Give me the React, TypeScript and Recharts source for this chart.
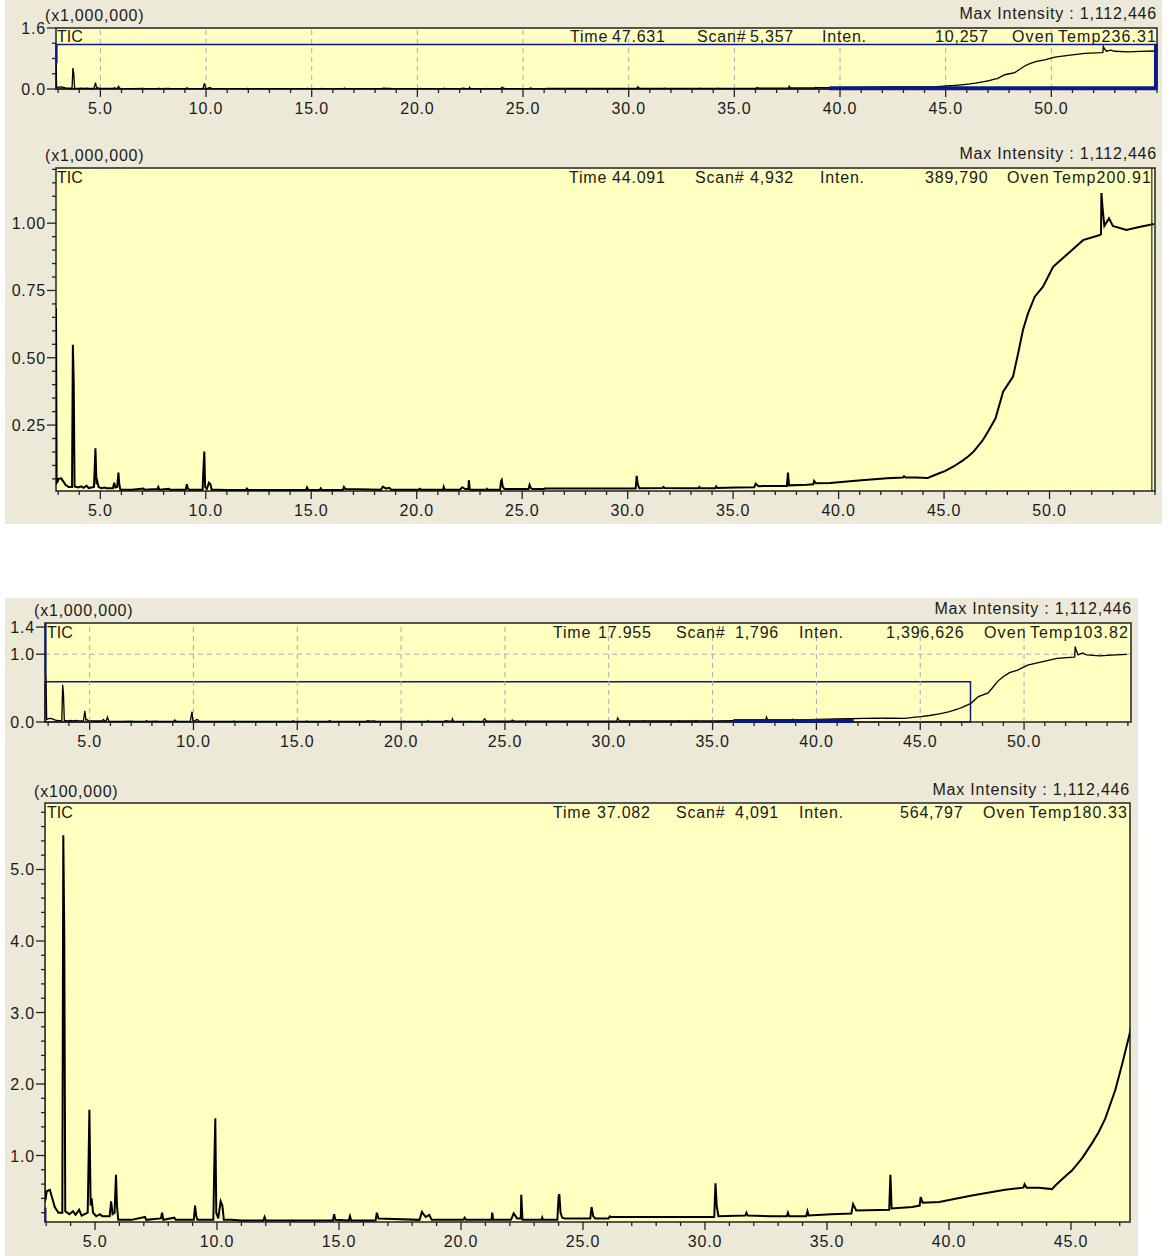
import React from "react";
import {
  LineChart,
  Line,
  XAxis,
  YAxis,
  CartesianGrid,
  ReferenceArea,
  ReferenceLine,
} from "recharts";

// retention time (min) and TIC intensity (x100,000 counts)
const retentionTime = [
  2.9, 2.93, 2.98, 3.02, 3.15, 3.25, 3.35, 3.5, 3.66, 3.7, 3.74, 3.78, 3.95, 4.1, 4.2, 4.35, 4.45,
  4.7, 4.73, 4.77, 4.82, 4.86, 4.92, 5.05, 5.2, 5.3, 5.6, 5.66, 5.72, 5.8, 5.86, 5.9, 5.95, 6.5,
  7.05, 7.1, 7.7, 7.75, 7.8, 8.25, 8.3, 9.05, 9.1, 9.15, 9.2, 9.85, 9.88, 9.93, 9.97, 10.05, 10.15,
  10.22, 10.28, 10.6, 11.0, 11.9, 11.95, 12.0, 14.75, 14.8, 14.85, 15.4, 15.45, 15.5, 16.5, 16.55,
  16.62, 18.3, 18.4, 18.55, 18.7, 18.8, 20.1, 20.15, 20.2, 21.25, 21.28, 21.32, 22.05, 22.16, 22.3,
  22.45, 22.47, 22.52, 23.3, 23.33, 23.36, 23.95, 24.0, 24.03, 24.08, 24.15, 24.25, 25.3, 25.35,
  25.42, 25.5, 26.05, 26.1, 26.15, 30.38, 30.43, 30.48, 30.55, 31.65, 31.7, 31.75, 32.7, 33.35,
  33.4, 33.45, 34.15, 34.2, 34.25, 35.18, 36.0, 36.07, 36.2, 37.55, 37.6, 37.65, 38.5, 38.8, 38.84,
  38.92, 39.6, 40.94, 42.3, 43.05, 43.1, 43.18, 43.68, 44.22, 44.36, 44.77, 45.04, 45.45, 45.86,
  46.14, 46.41, 46.82, 47.1, 47.31, 47.44, 47.8, 48.27, 48.51, 48.74, 48.98, 49.3, 49.69, 50.17,
  50.8, 51.59, 52.38, 52.44, 52.46, 52.52, 52.6, 52.82, 53.0, 53.64, 54.2, 54.95,
];
const ticIntensity = [
  6.85, 0.35, 0.4, 0.5, 0.52, 0.4, 0.28, 0.2, 0.2, 5.48, 4.08, 0.22, 0.18, 0.22, 0.17, 0.24, 0.16,
  0.2, 0.8, 1.64, 0.3, 0.4, 0.2, 0.15, 0.18, 0.15, 0.15, 0.36, 0.18, 0.2, 0.73, 0.3, 0.1, 0.1,
  0.14, 0.1, 0.12, 0.2, 0.1, 0.13, 0.1, 0.1, 0.3, 0.15, 0.1, 0.1, 0.7, 1.52, 0.2, 0.12, 0.36,
  0.3, 0.1, 0.1, 0.09, 0.09, 0.14, 0.09, 0.09, 0.18, 0.1, 0.09, 0.15, 0.09, 0.09, 0.2,
  0.12, 0.1, 0.21, 0.14, 0.17, 0.1, 0.1, 0.13, 0.1, 0.1, 0.2, 0.1, 0.1, 0.19, 0.12,
  0.12, 0.45, 0.1, 0.1, 0.13, 0.1, 0.1, 0.42, 0.46, 0.2, 0.13, 0.12, 0.12, 0.28,
  0.15, 0.12, 0.12, 0.15, 0.14, 0.14, 0.61, 0.3, 0.15, 0.16, 0.2, 0.16, 0.15, 0.15,
  0.2, 0.15, 0.15, 0.22, 0.16, 0.18, 0.19, 0.32, 0.23, 0.24, 0.73, 0.26, 0.28, 0.3, 0.42,
  0.34, 0.35, 0.44, 0.52, 0.55, 0.6, 0.55, 0.55, 0.53, 0.58, 0.71, 0.79, 0.96, 1.17,
  1.33, 1.52, 1.92, 2.28, 2.57, 2.75, 3.74, 4.3, 5.16, 6.03, 6.65, 7.27, 7.64, 8.38,
  8.82, 9.37, 9.56, 9.6, 11.12, 10.5, 9.9, 10.18, 9.9, 9.75, 9.85, 9.97,
];

// axis ticks
const fullMinuteTicks = [
  3, 4, 5, 6, 7, 8, 9, 10, 11, 12, 13, 14, 15, 16, 17, 18, 19, 20, 21, 22, 23, 24, 25, 26, 27, 28,
  29, 30, 31, 32, 33, 34, 35, 36, 37, 38, 39, 40, 41, 42, 43, 44, 45, 46, 47, 48, 49, 50, 51, 52,
  53, 54, 55,
];
const detailMinuteTicks = fullMinuteTicks.filter((t) => t <= 47);
const fullTimeLabels = [5, 10, 15, 20, 25, 30, 35, 40, 45, 50];
const detailTimeLabels = [5, 10, 15, 20, 25, 30, 35, 40, 45];

const overviewTopYTicks = [0, 0.4, 0.8, 1.2, 1.6];
const overviewTopYLabels = [0, 1.6];
const fullYTicks = [
  0.05, 0.1, 0.15, 0.2, 0.25, 0.3, 0.35, 0.4, 0.45, 0.5, 0.55, 0.6, 0.65, 0.7, 0.75, 0.8, 0.85,
  0.9, 0.95, 1.0, 1.05, 1.1, 1.15, 1.2,
];
const fullYLabels = [0.25, 0.5, 0.75, 1.0];
const overviewBottomYTicks = [0, 1.0, 1.4];
const detailYTicks = [
  0.2, 0.4, 0.6, 0.8, 1.0, 1.2, 1.4, 1.6, 1.8, 2.0, 2.2, 2.4, 2.6, 2.8, 3.0, 3.2, 3.4, 3.6, 3.8,
  4.0, 4.2, 4.4, 4.6, 4.8, 5.0, 5.2, 5.4, 5.6, 5.8,
];
const detailYLabels = [1, 2, 3, 4, 5];

const FONT = "'Liberation Sans', Arial, sans-serif";
const YELLOW = "#FFFFC0";
const BEIGE = "#ECE9D8";
const NAVY = "#0A1A80";
const GRID = "#A8A8C0";
const INK = "#1a1a1a";
const SPACING = 0.8;

const rows = retentionTime.map((t, i) => ({ t, e5: ticIntensity[i], e6: ticIntensity[i] / 10 }));

const isIn = (list: number[], v: number) => list.some((l) => Math.abs(l - v) < 1e-6);

function makeXTick(labels: number[]) {
  return (props: any) => {
    const { x, y, payload } = props;
    const v = payload.value;
    const major = isIn(labels, v);
    return (
      <g>
        <line x1={x} x2={x} y1={y} y2={y + (major ? 8 : 4)} stroke="#222" strokeWidth={1.3} />
        {major ? (
          <text
            x={x}
            y={y + 25}
            textAnchor="middle"
            fontSize={16}
            fontFamily={FONT}
            letterSpacing={SPACING}
            fill={INK}
          >
            {v.toFixed(1)}
          </text>
        ) : null}
      </g>
    );
  };
}

function makeYTick(labels: number[], digits: number) {
  return (props: any) => {
    const { x, y, payload } = props;
    const v = payload.value;
    const major = isIn(labels, v);
    return (
      <g>
        <line x1={x - (major ? 9 : 4)} x2={x} y1={y} y2={y} stroke="#222" strokeWidth={1.3} />
        {major ? (
          <text
            x={x - 10}
            y={y + 6}
            textAnchor="end"
            fontSize={16}
            fontFamily={FONT}
            letterSpacing={SPACING}
            fill={INK}
          >
            {v.toFixed(digits)}
          </text>
        ) : null}
      </g>
    );
  };
}

type PanelProps = {
  plotLeft: number;
  plotRight: number;
  plotTop: number;
  plotBottom: number;
  xDomain: [number, number];
  yDomain: [number, number];
  dataKey: string;
  xTicks: number[];
  xLabels: number[];
  yTicks: number[];
  yLabels: number[];
  digits: number;
  lineWidth: number;
  gridX?: number[];
  gridY?: number[];
  extras?: React.ReactNode[];
};

function Chromatogram(p: PanelProps) {
  const svgTop = p.plotTop - 10;
  const height = p.plotBottom - svgTop + 40;
  return (
    <div style={{ position: "absolute", left: 0, top: svgTop }}>
      <LineChart
        width={1174}
        height={height}
        data={rows}
        margin={{ top: 10, bottom: 0, left: 0, right: 1174 - p.plotRight }}
      >
        <CartesianGrid fill={YELLOW} horizontal={false} vertical={false} />
        {(p.gridX || []).map((g) => (
          <ReferenceLine key={"gx" + g} x={g} stroke={GRID} strokeDasharray="5 4" />
        ))}
        {(p.gridY || []).map((g) => (
          <ReferenceLine key={"gy" + g} y={g} stroke={GRID} strokeDasharray="5 4" />
        ))}
        <XAxis
          type="number"
          dataKey="t"
          domain={p.xDomain}
          allowDataOverflow
          ticks={p.xTicks}
          interval={0}
          height={40}
          tickSize={0}
          tickMargin={0}
          axisLine={false}
          tickLine={false}
          tick={makeXTick(p.xLabels)}
        />
        <YAxis
          type="number"
          domain={p.yDomain}
          allowDataOverflow
          ticks={p.yTicks}
          interval={0}
          width={p.plotLeft}
          tickSize={0}
          tickMargin={0}
          axisLine={false}
          tickLine={false}
          tick={makeYTick(p.yLabels, p.digits)}
        />
        <Line
          type="linear"
          dataKey={p.dataKey}
          stroke="#000"
          strokeWidth={p.lineWidth}
          dot={false}
          isAnimationActive={false}
        />
        {p.extras}
        <ReferenceArea
          x1={p.xDomain[0]}
          x2={p.xDomain[1]}
          y1={p.yDomain[0]}
          y2={p.yDomain[1]}
          fill="none"
          stroke="#222"
          strokeWidth={1.5}
        />
      </LineChart>
    </div>
  );
}

type Readout = { time: string; scan: string; inten: string; temp: string };
const readouts: Readout[] = [
  { time: "47.631", scan: "5,357", inten: "10,257", temp: "236.31" },
  { time: "44.091", scan: "4,932", inten: "389,790", temp: "200.91" },
  { time: "17.955", scan: "1,796", inten: "1,396,626", temp: "103.82" },
  { time: "37.082", scan: "4,091", inten: "564,797", temp: "180.33" },
];
const multipliers = ["(x1,000,000)", "(x1,000,000)", "(x1,000,000)", "(x100,000)"];
const maxIntensity = "Max Intensity : 1,112,446";

const txt = (s: string, left: number | undefined, top: number, extra: React.CSSProperties = {}) => (
  <span
    style={{
      position: "absolute",
      left,
      top,
      fontFamily: FONT,
      fontSize: 16,
      letterSpacing: SPACING,
      color: INK,
      whiteSpace: "nowrap",
      lineHeight: "18px",
      ...extra,
    }}
  >
    {s}
  </span>
);

function Header({
  idx,
  multLeft,
  multTop,
  maxRight,
  tempRight,
  rowTop,
  ticLeft,
  cols,
}: {
  idx: number;
  multLeft: number;
  multTop: number;
  maxRight: number;
  tempRight: number;
  rowTop: number;
  ticLeft: number;
  cols: number[];
}) {
  const r = readouts[idx];
  return (
    <>
      {txt(multipliers[idx], multLeft, multTop)}
      {txt(maxIntensity, undefined, multTop - 2, { right: 1174 - maxRight })}
      {txt("TIC", ticLeft, rowTop, { letterSpacing: 0 })}
      {txt("Time", cols[0], rowTop)}
      {txt(r.time, cols[1], rowTop)}
      {txt("Scan#", cols[2], rowTop)}
      {txt(r.scan, cols[3], rowTop)}
      {txt("Inten.", cols[4], rowTop)}
      {txt(r.inten, cols[5], rowTop)}
      {txt("Oven Temp" + r.temp, undefined, rowTop, {
        right: 1174 - tempRight,
        letterSpacing: 1.1,
        wordSpacing: -2,
      })}
    </>
  );
}

export default function App() {
  return (
    <div
      style={{
        position: "absolute",
        left: 0,
        top: 0,
        width: 1174,
        height: 1256,
        background: "#fff",
        overflow: "hidden",
      }}
    >
      <div style={{ position: "absolute", left: 5, top: 0, width: 1157, height: 524, background: BEIGE }} />
      <div style={{ position: "absolute", left: 5, top: 598, width: 1133, height: 658, background: BEIGE }} />

      <Chromatogram
        plotLeft={56}
        plotRight={1157}
        plotTop={28}
        plotBottom={89}
        xDomain={[2.9, 55.0]}
        yDomain={[0, 1.6]}
        dataKey="e6"
        xTicks={fullMinuteTicks}
        xLabels={fullTimeLabels}
        yTicks={overviewTopYTicks}
        yLabels={overviewTopYLabels}
        digits={1}
        lineWidth={1.3}
        gridX={fullTimeLabels}
        extras={[
          <ReferenceArea key="sel" x1={2.9} x2={55.0} y1={0} y2={1.17} fill="none" stroke={NAVY} strokeWidth={1.5} />,
          <ReferenceLine key="bar" segment={[{ x: 39.5, y: 0.02 }, { x: 55, y: 0.02 }]} stroke={NAVY} strokeWidth={4} />,
          <ReferenceLine key="edge" segment={[{ x: 54.93, y: 0 }, { x: 54.93, y: 1.17 }]} stroke={NAVY} strokeWidth={3} />,
          <ReferenceLine key="cur" segment={[{ x: 2.93, y: 0.68 }, { x: 2.93, y: 1.17 }]} stroke={NAVY} strokeWidth={2} />,
        ]}
      />
      <Header idx={0} multLeft={45} multTop={7} maxRight={1157} tempRight={1157} rowTop={28} ticLeft={57} cols={[570, 612, 697, 750, 822, 935]} />

      <Chromatogram
        plotLeft={56}
        plotRight={1155}
        plotTop={168}
        plotBottom={491}
        xDomain={[2.9, 55.0]}
        yDomain={[0.005, 1.205]}
        dataKey="e6"
        xTicks={fullMinuteTicks}
        xLabels={fullTimeLabels}
        yTicks={fullYTicks}
        yLabels={fullYLabels}
        digits={2}
        lineWidth={2}
        extras={[<ReferenceLine key="cur" x={54.85} stroke="#333" strokeWidth={1.3} />]}
      />
      <Header idx={1} multLeft={45} multTop={147} maxRight={1157} tempRight={1152} rowTop={169} ticLeft={57} cols={[569, 612, 695, 750, 820, 925]} />

      <Chromatogram
        plotLeft={45}
        plotRight={1131}
        plotTop={623}
        plotBottom={722}
        xDomain={[2.85, 55.15]}
        yDomain={[0, 1.46]}
        dataKey="e6"
        xTicks={fullMinuteTicks}
        xLabels={fullTimeLabels}
        yTicks={overviewBottomYTicks}
        yLabels={overviewBottomYTicks}
        digits={1}
        lineWidth={1.3}
        gridX={fullTimeLabels}
        gridY={[1.0]}
        extras={[
          <ReferenceArea key="sel" x1={2.85} x2={47.42} y1={0} y2={0.593} fill="none" stroke={NAVY} strokeWidth={1.5} />,
          <ReferenceLine key="bar" segment={[{ x: 36, y: 0.015 }, { x: 41.8, y: 0.015 }]} stroke={NAVY} strokeWidth={4} />,
          <ReferenceLine key="cur" segment={[{ x: 2.88, y: 0.68 }, { x: 2.88, y: 1.46 }]} stroke={NAVY} strokeWidth={2} />,
        ]}
      />
      <Header idx={2} multLeft={34} multTop={602} maxRight={1132} tempRight={1129} rowTop={624} ticLeft={47} cols={[553, 598, 676, 735, 799, 886]} />

      <Chromatogram
        plotLeft={45}
        plotRight={1130}
        plotTop={803}
        plotBottom={1222}
        xDomain={[2.95, 47.42]}
        yDomain={[0.07, 5.93]}
        dataKey="e5"
        xTicks={detailMinuteTicks}
        xLabels={detailTimeLabels}
        yTicks={detailYTicks}
        yLabels={detailYLabels}
        digits={1}
        lineWidth={2}
        extras={[
          <ReferenceLine key="cur" segment={[{ x: 2.97, y: 0.07 }, { x: 2.97, y: 0.27 }]} stroke={NAVY} strokeWidth={2} />,
        ]}
      />
      <Header idx={3} multLeft={34} multTop={783} maxRight={1130} tempRight={1128} rowTop={804} ticLeft={47} cols={[553, 597, 676, 735, 799, 900]} />
    </div>
  );
}
